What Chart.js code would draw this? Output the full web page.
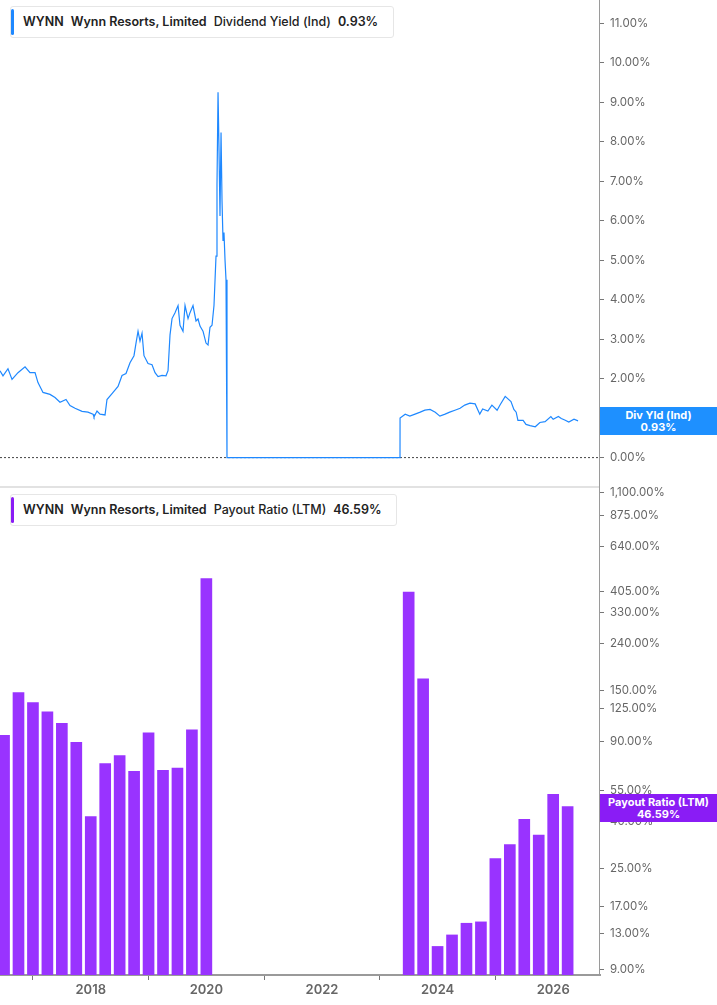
<html>
<head>
<script src="https://cdn.jsdelivr.net/npm/chart.js"></script>
<style>
  body { margin:0; background:#fff; font-family:Inter, "Noto Sans", sans-serif; }
  #wrap { position:relative; width:717px; height:1005px; overflow:hidden; }
  canvas { position:absolute; left:0; }
  .legend { position:absolute; left:10px; background:#fff; border:1px solid #e6e6e6; border-radius:3px;
    height:30px; line-height:30px; font-size:12.5px; font-weight:600; color:#222; padding:0 8px 0 12px; white-space:nowrap; }
  .legend:before { content:""; position:absolute; left:0; top:2px; bottom:2px; width:3px; border-radius:2px; background:var(--c); }
  .legend span { margin-right:7px; }
  .legend .n { font-weight:500; }
  .badge { position:absolute; left:600px; width:117px; color:#fff; font-size:11px; font-weight:700; text-align:center; line-height:12px; padding:2px 0; }
  .sep { position:absolute; left:0; width:600px; top:486px; height:2px; background:#e2e2e2; }
  .vline { position:absolute; left:599px; top:0; width:1px; height:975px; background:#9a9a9a; }
</style>
</head>
<body>
<div id="wrap">
  <canvas id="top" width="717" height="487" style="top:0"></canvas>
  <canvas id="bottom" width="717" height="529" style="top:476px"></canvas>
  <div class="sep"></div>
  <div class="vline"></div>
  <div class="legend" style="top:6px;--c:#1e88ff"><span>WYNN</span><span>Wynn Resorts, Limited</span><span class="n">Dividend Yield (Ind)</span><span>0.93%</span></div>
  <div class="legend" style="top:494px;--c:#8a1cf5"><span>WYNN</span><span>Wynn Resorts, Limited</span><span class="n">Payout Ratio (LTM)</span><span>46.59%</span></div>
  <div class="badge" style="top:407px;background:#1e90ff">Div Yld (Ind)<br>0.93%</div>
  <div class="badge" style="top:794px;background:#8a1cf5">Payout Ratio (LTM)<br>46.59%</div>
</div>
<script>
// dividend yield (%), dates as decimal years
const yieldDates = [
  2016.430, 2016.482, 2016.568, 2016.638, 2016.741, 2016.863, 2016.949, 2017.036, 2017.087, 2017.174,
  2017.295, 2017.382, 2017.468, 2017.572, 2017.641, 2017.728, 2017.849, 2017.952, 2018.039, 2018.056,
  2018.108, 2018.160, 2018.247, 2018.281, 2018.368, 2018.472, 2018.541, 2018.610, 2018.679, 2018.748,
  2018.783, 2018.818, 2018.852, 2018.887, 2018.921, 2018.991, 2019.060, 2019.112, 2019.164, 2019.233,
  2019.302, 2019.337, 2019.371, 2019.406, 2019.458, 2019.510, 2019.544, 2019.596, 2019.631, 2019.683,
  2019.717, 2019.769, 2019.821, 2019.856, 2019.890, 2019.942, 2019.994, 2020.029, 2020.063, 2020.098,
  2020.132, 2020.167, 2020.184, 2020.202, 2020.219, 2020.236, 2020.254, 2020.271, 2020.288, 2020.305,
  2020.323, 2020.340, 2020.357,
  2023.35, 2023.351, 2023.44, 2023.52, 2023.61, 2023.70, 2023.78, 2023.87, 2023.96, 2024.04,
  2024.13, 2024.21, 2024.30, 2024.39, 2024.47, 2024.56, 2024.65, 2024.73, 2024.78, 2024.87,
  2024.94, 2025.03, 2025.08, 2025.17, 2025.27, 2025.32, 2025.36, 2025.39, 2025.48, 2025.53,
  2025.60, 2025.69, 2025.77, 2025.86, 2025.96, 2026.00, 2026.09, 2026.14, 2026.20, 2026.27,
  2026.36, 2026.43];
const yieldValues = [
  2.20, 2.07, 2.25, 1.98, 2.15, 2.30, 2.15, 2.15, 1.90, 1.65,
  1.60, 1.52, 1.40, 1.47, 1.32, 1.25, 1.17, 1.15, 1.10, 1.03,
  1.18, 1.10, 1.08, 1.47, 1.62, 1.80, 2.08, 2.13, 2.40, 2.58,
  2.90, 3.20, 2.95, 3.15, 2.58, 2.38, 2.35, 2.15, 2.05, 2.08,
  2.07, 2.20, 3.10, 3.52, 3.67, 3.85, 3.35, 3.20, 3.85, 3.52,
  3.67, 3.85, 3.46, 3.51, 3.33, 3.20, 2.90, 2.85, 3.30, 3.35,
  3.85, 5.10, 6.90, 9.25, 7.78, 6.12, 8.23, 6.50, 5.50, 5.70,
  5.00, 4.50, 0,
  0, 1.00, 1.10, 1.05, 1.10, 1.15, 1.20, 1.22, 1.15, 1.05,
  1.10, 1.15, 1.20, 1.25, 1.33, 1.38, 1.36, 1.10, 1.23, 1.18,
  1.33, 1.20, 1.33, 1.55, 1.42, 1.22, 1.15, 0.94, 0.94, 0.84,
  0.81, 0.78, 0.89, 0.91, 1.04, 0.97, 1.04, 0.99, 0.95, 0.90,
  0.97, 0.93];
// payout ratio LTM (%), quarterly
const payoutDates = [2016.5,2016.75,2017.0,2017.25,2017.5,2017.75,2018.0,2018.25,2018.5,2018.75,2019.0,2019.25,2019.5,2019.75,2020.0,
  2023.5,2023.75,2024.0,2024.25,2024.5,2024.75,2025.0,2025.25,2025.5,2025.75,2026.0,2026.25];
const payoutValues = [95.5,147,133,121,108,89,42.2,72,78,66.5,98,67.2,68.7,101,463,
  405,169,11.4,12.8,14.4,14.6,27.6,31.8,41,35,52.8,46.59];
const yieldTicks = [0,1,2,3,4,5,6,7,8,9,10,11];
const payoutTicks = [9,13,17,25,40,55,90,125,150,240,330,405,640,875,1100];
const yearTicks = [2018,2020,2022,2024,2026];

const X_MIN = 2016.43, X_MAX = 2026.81;
const tickFont = { family: 'Inter', size: 11.5 };
const fmtPct = v => v.toLocaleString('en-US', {minimumFractionDigits:2, maximumFractionDigits:2}) + '%';

function rightAxis(ticks, extra) {
  return Object.assign({
    position: 'right',
    afterFit: s => { s.width = 117; },
    afterBuildTicks: s => { s.ticks = ticks.map(v => ({ value: v })); },
    border: { display: false },
    grid: { drawOnChartArea: false, tickLength: 4, color: '#777', tickWidth: 1 },
    ticks: { color: '#666', font: tickFont, padding: 6, callback: v => fmtPct(v) }
  }, extra);
}

// zero line drawn dashed
const zeroLine = {
  id: 'zeroLine',
  beforeDatasetsDraw: ch => {
    const y = ch.scales.y.getPixelForValue(0), ctx = ch.ctx;
    ctx.save(); ctx.setLineDash([2, 2]); ctx.strokeStyle = '#444'; ctx.lineWidth = 1;
    ctx.beginPath(); ctx.moveTo(0, y); ctx.lineTo(ch.chartArea.right, y); ctx.stroke(); ctx.restore();
  }
};

new Chart(document.getElementById('top'), {
  type: 'line',
  data: { datasets: [{ data: yieldDates.map((d, i) => ({ x: d, y: yieldValues[i] })),
    borderColor: '#1e88ff', borderWidth: 1.2, pointRadius: 0, tension: 0 }] },
  options: {
    responsive: false, animation: false,
    layout: { padding: 0 },
    plugins: { legend: { display: false }, tooltip: { enabled: false } },
    scales: {
      x: { type: 'linear', min: X_MIN, max: X_MAX, display: false },
      y: rightAxis(yieldTicks, { min: -0.418, max: 11.26 })
    }
  },
  plugins: [zeroLine]
});

new Chart(document.getElementById('bottom'), {
  type: 'bar',
  data: { datasets: [{ data: payoutDates.map((d, i) => ({ x: d, y: payoutValues[i] })),
    backgroundColor: '#9933ff', barThickness: 11 }] },
  options: {
    responsive: false, animation: false,
    layout: { padding: 0 },
    plugins: { legend: { display: false }, tooltip: { enabled: false } },
    scales: {
      x: { type: 'linear', min: X_MIN, max: X_MAX, offset: false,
        afterBuildTicks: s => { s.ticks = yearTicks.map(v => ({ value: v })); },
        border: { color: '#9a9a9a', width: 2 },
        grid: { drawOnChartArea: false, tickLength: 5, color: '#777' },
        ticks: { color: '#666', font: { family: 'Inter', size: 13, weight: '600' }, padding: 2, callback: v => String(v) },
        afterFit: s => { s.height = 30; } },
      y: rightAxis(payoutTicks, { type: 'logarithmic', min: 8.55, max: 1144 })
    }
  }
});
</script>
</body>
</html>
